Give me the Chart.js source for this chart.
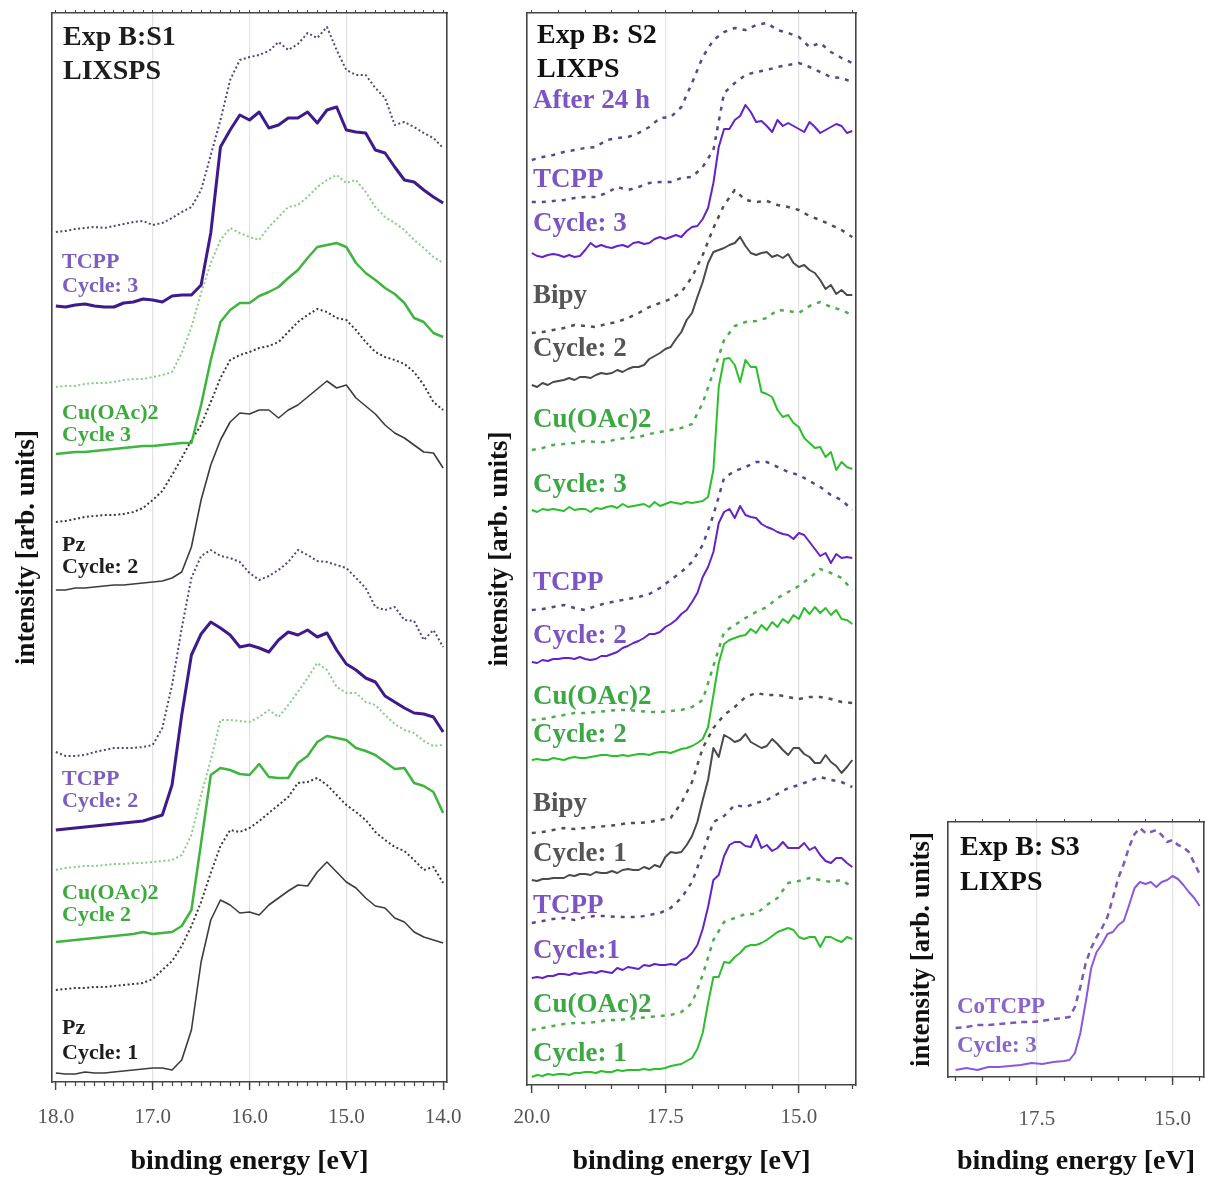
<!DOCTYPE html>
<html><head><meta charset="utf-8">
<script src="https://cdn.jsdelivr.net/npm/chart.js@4.4.1/dist/chart.umd.min.js"></script>
<style>
html,body{margin:0;padding:0;background:#fff;}
#wrap{position:relative;width:1205px;height:1179px;overflow:hidden;background:#fff;}
canvas{position:absolute;top:0;}
</style></head><body>
<div id="wrap">
<canvas id="c1" width="470" height="1179" style="left:0px"></canvas>
<canvas id="c2" width="410" height="1179" style="left:470px"></canvas>
<canvas id="c3" width="325" height="1179" style="left:880px"></canvas>
</div>
<script>
// ---------------- DATA ----------------
// Panel 1 (Exp B:S1) binding energies [eV]
const p1Energy = [18.0,17.9,17.8,17.7,17.6,17.5,17.4,17.3,17.2,17.1,17.0,16.9,16.8,16.7,16.6,16.5,16.4,16.3,16.2,16.1,16.0,15.9,15.8,15.7,15.6,15.5,15.4,15.3,15.2,15.1,15.0,14.9,14.8,14.7,14.6,14.5,14.4,14.3,14.2,14.1,14.0];
const p1TcppC3Dot = [850,851,853,854,855,854,856,858,860,861,857,859,864,870,875,892,927,962,1002,1022,1025,1027,1031,1040,1032,1038,1049,1044,1055,1032,1012,1007,1007,994,984,957,960,955,949,944,934];
const p1TcppC3    = [776,775,777,778,776,775,775,779,780,783,782,780,786,787,787,797,849,935,952,967,962,970,954,957,964,964,970,959,972,975,952,950,949,932,929,915,902,900,892,885,879];
const p1CuC3Dot   = [695,696,696,698,699,699,700,702,703,703,705,707,710,729,755,789,819,842,854,849,845,842,855,865,875,877,885,895,902,907,899,902,890,875,865,859,852,842,834,825,819];
const p1CuC3      = [628,629,630,630,631,632,633,634,635,636,636,637,638,639,639,677,722,760,772,779,779,786,790,795,804,812,824,835,837,839,835,819,809,802,794,788,779,764,760,749,745];
const p1PzC2Dot   = [560,561,563,565,566,567,567,568,570,574,582,591,607,624,642,657,680,704,722,727,730,734,736,740,750,760,767,773,770,764,762,752,740,730,725,722,718,710,697,680,672];
const p1PzC2      = [492,492,494,494,495,496,497,497,498,499,500,501,504,510,535,582,617,642,660,669,668,672,672,664,672,677,685,693,701,694,697,684,676,668,657,649,644,637,630,629,614];
const p1TcppC2Dot = [330,326,326,327,330,332,334,334,334,335,337,354,397,454,504,526,532,526,524,520,509,502,506,512,520,532,527,521,520,517,514,504,494,475,472,475,462,461,442,452,435];
const p1TcppC2    = [252,253,254,255,256,257,258,259,260,261,264,267,297,367,427,448,460,454,447,435,437,434,430,442,450,447,452,445,449,432,418,412,404,400,386,380,374,369,368,365,350];
const p1CuC2Dot   = [212,214,215,216,216,217,218,218,219,219,220,221,222,227,247,287,322,362,362,361,360,365,372,365,377,390,404,419,412,395,389,389,380,377,367,358,352,349,341,336,337];
const p1CuC2      = [140,141,142,143,144,145,146,147,148,150,148,149,150,156,172,239,307,314,312,308,307,318,305,304,304,319,326,340,346,344,342,334,331,327,320,313,314,299,296,290,269];
const p1PzC1Dot   = [92,93,94,94,95,95,96,97,98,99,103,112,121,136,156,180,209,236,252,250,254,261,269,277,285,299,300,304,297,287,277,270,262,250,242,235,231,222,212,215,199];
const p1PzC1      = [9,8,8,10,9,9,10,11,12,13,14,14,12,22,52,120,162,182,177,169,170,167,177,184,191,197,196,210,220,210,200,194,184,176,174,164,160,150,145,142,139];

// Panel 2 (Exp B: S2): dashed traces on a 0.2 eV grid, solid traces on a 0.1 eV grid
const p2EnergyCoarse = [20.0,19.8,19.6,19.4,19.2,19.0,18.8,18.6,18.4,18.2,18.0,17.8,17.6,17.4,17.2,17.0,16.8,16.6,16.4,16.2,16.0,15.8,15.6,15.4,15.2,15.0,14.8,14.6,14.4,14.2,14.0];
const p2EnergyFine = [20.0,19.9,19.8,19.7,19.6,19.5,19.4,19.3,19.2,19.1,19.0,18.9,18.8,18.7,18.6,18.5,18.4,18.3,18.2,18.1,18.0,17.9,17.8,17.7,17.6,17.5,17.4,17.3,17.2,17.1,17.0,16.9,16.8,16.7,16.6,16.5,16.4,16.3,16.2,16.1,16.0,15.9,15.8,15.7,15.6,15.5,15.4,15.3,15.2,15.1,15.0,14.9,14.8,14.7,14.6,14.5,14.4,14.3,14.2,14.1,14.0];
const p2After24h   = [925,928,930,933,935,937,938,945,947,948,952,958,967,968,978,1002,1028,1045,1053,1057,1055,1060,1062,1055,1052,1048,1038,1042,1033,1027,1022];
const p2TcppC3Dot  = [883,883,884,885,887,888,888,892,898,895,898,902,903,903,907,908,918,935,992,1002,1010,1013,1015,1018,1020,1022,1018,1013,1008,1007,1003];
const p2TcppC3     = [832,829,828,830,831,830,828,830,828,829,835,842,838,840,838,837,839,840,838,842,843,841,842,846,848,846,848,850,848,854,858,859,866,877,902,938,956,956,965,969,980,973,963,964,959,953,965,959,962,959,956,953,963,958,952,955,958,961,959,952,954];
const p2BipyC2Dot  = [752,753,755,757,760,759,758,761,763,767,772,778,782,786,793,808,830,857,880,895,885,883,884,880,878,875,869,865,860,855,848];
const p2BipyC2     = [700,698,702,700,703,704,705,707,705,708,708,707,710,712,711,712,715,713,716,718,718,720,726,729,732,736,738,746,753,765,772,788,803,822,833,835,837,840,842,848,839,832,830,832,833,828,830,827,831,822,818,820,815,812,805,796,800,791,795,790,790];
const p2CuC3Dot    = [635,637,640,641,642,644,643,643,646,647,648,651,653,655,657,661,682,713,745,759,763,764,767,775,774,772,779,783,778,775,770];
const p2CuC3       = [575,573,576,575,576,575,574,578,575,576,576,573,577,576,578,579,577,581,578,579,580,581,578,583,579,581,583,582,581,583,582,583,584,588,615,698,726,727,720,703,725,718,718,693,691,688,675,668,670,662,658,647,642,637,638,628,633,615,623,618,616];
const p2TcppC2Dot  = [475,476,478,480,477,475,479,482,484,486,488,491,497,505,513,523,540,570,607,614,618,623,623,618,613,610,604,598,590,585,575];
const p2TcppC2     = [423,422,425,424,426,426,427,427,426,428,426,425,426,429,429,431,433,437,439,442,444,447,451,451,453,458,461,465,471,475,483,492,508,518,533,562,573,576,567,579,570,568,567,561,558,556,553,551,550,546,552,550,543,536,529,532,522,531,527,528,527];
const p2CuC2Dot    = [365,366,368,370,372,372,373,374,375,375,374,373,373,374,375,378,385,419,453,460,467,473,478,487,493,499,507,516,512,507,495];
const p2CuC2       = [325,326,325,325,327,326,325,327,328,327,327,328,329,330,330,329,329,330,329,330,331,331,330,332,333,333,332,334,336,337,339,342,346,358,390,422,441,445,447,449,450,456,452,460,455,463,458,466,462,470,466,477,471,478,472,477,470,475,466,465,461];
const p2BipyC1Dot  = [252,253,255,257,256,257,258,259,260,262,262,263,265,267,282,303,337,357,370,378,388,392,390,390,388,386,388,388,386,383,382];
const p2BipyC1     = [205,204,206,206,207,207,207,210,209,211,211,210,213,212,212,214,212,215,216,215,215,218,216,220,218,228,233,232,233,240,249,263,285,305,337,328,350,347,343,345,351,343,340,337,339,346,341,335,330,337,337,331,328,322,322,330,323,319,312,318,325];
const p2TcppC1Dot  = [162,164,166,167,165,168,169,169,168,168,168,170,172,177,187,203,232,263,269,280,278,282,285,291,297,300,304,308,305,303,298];
const p2TcppC1     = [107,108,107,109,109,111,111,110,112,111,112,113,112,114,113,112,117,115,118,117,116,120,119,121,120,120,121,120,125,127,132,140,156,178,205,210,229,240,243,243,239,238,250,237,240,234,237,243,237,237,237,242,235,238,230,224,222,227,227,222,218];
const p2CuC1Dot    = [55,57,59,61,62,62,63,65,65,66,67,68,69,70,73,82,110,145,163,167,171,171,180,187,202,204,207,205,203,205,198];
const p2CuC1       = [8,10,9,11,10,11,11,10,12,12,13,13,12,14,13,13,15,14,15,15,15,16,15,16,16,17,19,20,21,24,27,36,52,82,108,108,123,122,128,132,138,140,140,142,145,149,153,155,157,155,148,146,148,148,138,148,148,145,143,148,146];

// Panel 3 (Exp B: S3)
const p3Energy = [19.0,18.8,18.6,18.4,18.2,18.0,17.8,17.6,17.4,17.2,17.0,16.9,16.8,16.7,16.6,16.5,16.4,16.3,16.2,16.1,16.0,15.9,15.8,15.7,15.6,15.5,15.4,15.3,15.2,15.1,15.0,14.9,14.8,14.7,14.6,14.5];
const p3CoTcppDash = [49,50,52,52,53,54,55,55,56,58,59,60,70,90,114,129,140,149,160,179,199,213,230,243,249,244,245,247,242,235,237,232,230,225,214,203];
const p3CoTcppC3   = [7,9,7,10,10,11,12,14,13,15,16,17,24,44,75,109,125,133,143,145,152,156,172,189,195,193,195,190,195,197,201,198,192,185,179,171];

// Axis tick settings (eV)
const p1Ticks = {major:1, minor:0.1, grid:[15,16,17]};
const p2Ticks = {major:2.5, minor:0.5, grid:[15,17.5]};
const p3Ticks = {major:2.5, minor:0.5, grid:[15,17.5]};

// ---------------- STYLE / LAYOUT ----------------
const SERIF = '"Liberation Serif", "Times New Roman", serif';
const FRAME = '#444';

const notesPlugin = {
  id: 'notes',
  afterDatasetsDraw(chart, args, opts) {
    const ctx = chart.ctx;
    (opts.items || []).forEach(n => {
      ctx.save();
      ctx.font = 'bold ' + n.s + 'px ' + SERIF;
      ctx.fillStyle = n.c;
      ctx.textBaseline = 'alphabetic';
      ctx.textAlign = 'left';
      ctx.fillText(n.t, n.x, n.y);
      ctx.restore();
    });
  }
};

function ds(energy, values, color, width, dash) {
  return {
    data: energy.map((e, i) => ({x: e, y: values[i]})),
    borderColor: color, borderWidth: width, borderDash: dash || [],
    pointRadius: 0, tension: 0, fill: false, xAxisID: 'x', yAxisID: 'y',
    borderCapStyle: 'butt', borderJoinStyle: 'round'
  };
}

function makePanel(id, L) {
  const near = (a, b) => Math.abs(a - b) < 1e-6;
  const noPad = s => { s.paddingLeft = 0; s.paddingRight = 0; };
  new Chart(document.getElementById(id), {
    type: 'line',
    data: {datasets: L.datasets},
    plugins: [notesPlugin],
    options: {
      responsive: false, animation: false, devicePixelRatio: 1,
      layout: {padding: {left: 0, right: L.padRight, top: 0, bottom: 0}},
      plugins: {legend: {display: false}, tooltip: {enabled: false}, notes: {items: L.notes}},
      scales: {
        xMinor: {
          type: 'linear', position: 'bottom', weight: 0, min: L.min, max: L.max, reverse: true,
          ticks: {display: false, stepSize: L.ticks.minor, includeBounds: false},
          grid: {drawOnChartArea: false, drawTicks: true, tickLength: 4, tickColor: FRAME, tickWidth: 1.2},
          border: {display: false},
          afterFit: s => { s.height = 0; noPad(s); }
        },
        x: {
          type: 'linear', position: 'bottom', weight: 1, min: L.min, max: L.max, reverse: true,
          ticks: {stepSize: L.ticks.major, includeBounds: false, autoSkip: false, maxRotation: 0,
                  padding: L.tickPad, color: '#555', font: {family: SERIF, size: 21},
                  callback: v => Number(v).toFixed(1)},
          grid: {
            color: c => (c.tick && L.ticks.grid.some(g => near(g, c.tick.value))) ? '#e2e2e2' : 'rgba(0,0,0,0)',
            lineWidth: 1.2, tickLength: 8, tickColor: FRAME, tickWidth: 1.4
          },
          border: {display: true, color: FRAME, width: 1.6},
          title: {display: true, text: 'binding energy [eV]', color: '#111',
                  font: {family: SERIF, size: 28, weight: 'bold'}, padding: {top: 0, bottom: 0}},
          afterFit: s => { s.height = L.xH; noPad(s); }
        },
        xTop: {
          type: 'linear', position: 'top', min: L.min, max: L.max, reverse: true,
          ticks: {display: false, stepSize: L.ticks.minor, includeBounds: false},
          grid: {drawOnChartArea: false, drawTicks: true, tickLength: 3, tickColor: FRAME, tickWidth: 1},
          border: {display: true, color: FRAME, width: 1.6},
          afterFit: s => { s.height = L.topH; noPad(s); }
        },
        y: {
          type: 'linear', position: 'left', min: 0, max: L.yMax,
          ticks: {display: false}, grid: {display: false, drawTicks: false},
          border: {display: true, color: FRAME, width: 1.6},
          title: {display: true, text: 'intensity [arb. units]', color: '#111',
                  font: {family: SERIF, size: 27, weight: 'bold'}, padding: {top: L.yTitlePad, bottom: 0}},
          afterFit: s => { s.width = L.yW; }
        },
        yRight: {
          type: 'linear', position: 'right', min: 0, max: L.yMax,
          ticks: {display: false}, grid: {display: false, drawTicks: false},
          border: {display: true, color: FRAME, width: 1.6},
          afterFit: s => { s.width = 0; }
        }
      }
    }
  });
}

// Panel 1 colours
const P1_PURPLE_DOT = '#58427f', P1_PURPLE = '#3d1b8c';
const P1_GREEN_DOT = '#82cf82', P1_GREEN = '#3fb53f';
const P1_GRAY_DOT = '#3a3a3a', P1_GRAY = '#3c3c3c';
const DOT1 = [2, 2.5];
const L1P = '#7b5fc0', L1G = '#3daa3d', L1K = '#1e1e1e';

makePanel('c1', {
  min: 13.96, max: 18.04, yMax: 1069, padRight: 23, yW: 52, topH: 13, xH: 97,
  tickPad: 15, yTitlePad: 11, ticks: p1Ticks,
  datasets: [
    ds(p1Energy, p1TcppC3Dot, P1_PURPLE_DOT, 2, DOT1),
    ds(p1Energy, p1TcppC3, P1_PURPLE, 3),
    ds(p1Energy, p1CuC3Dot, P1_GREEN_DOT, 2, DOT1),
    ds(p1Energy, p1CuC3, P1_GREEN, 2.5),
    ds(p1Energy, p1PzC2Dot, P1_GRAY_DOT, 2, DOT1),
    ds(p1Energy, p1PzC2, P1_GRAY, 1.6),
    ds(p1Energy, p1TcppC2Dot, P1_PURPLE_DOT, 2, DOT1),
    ds(p1Energy, p1TcppC2, P1_PURPLE, 3),
    ds(p1Energy, p1CuC2Dot, P1_GREEN_DOT, 2, DOT1),
    ds(p1Energy, p1CuC2, P1_GREEN, 2.5),
    ds(p1Energy, p1PzC1Dot, P1_GRAY_DOT, 2, DOT1),
    ds(p1Energy, p1PzC1, P1_GRAY, 1.6)
  ],
  notes: [
    {t: 'Exp B:S1', c: L1K, x: 63, y: 45, s: 28},
    {t: 'LIXSPS', c: L1K, x: 63, y: 79, s: 28},
    {t: 'TCPP', c: L1P, x: 62, y: 268, s: 22},
    {t: 'Cycle: 3', c: L1P, x: 62, y: 292, s: 22},
    {t: 'Cu(OAc)2', c: L1G, x: 62, y: 419, s: 22},
    {t: 'Cycle 3', c: L1G, x: 62, y: 441, s: 22},
    {t: 'Pz', c: L1K, x: 62, y: 551, s: 22},
    {t: 'Cycle: 2', c: L1K, x: 62, y: 573, s: 22},
    {t: 'TCPP', c: L1P, x: 62, y: 785, s: 22},
    {t: 'Cycle: 2', c: L1P, x: 62, y: 807, s: 22},
    {t: 'Cu(OAc)2', c: L1G, x: 62, y: 899, s: 22},
    {t: 'Cycle 2', c: L1G, x: 62, y: 921, s: 22},
    {t: 'Pz', c: L1K, x: 62, y: 1034, s: 22},
    {t: 'Cycle: 1', c: L1K, x: 62, y: 1059, s: 22}
  ]
});

// Panel 2 colours
const P2_PURPLE_DASH = '#5c4590', P2_PURPLE = '#6422c8';
const P2_GRAY_DASH = '#505050', P2_GRAY = '#4a4a4a';
const P2_GREEN_DASH = '#4aae4a', P2_GREEN = '#2cbf2c';
const DASH2 = [4, 6];
const L2P = '#7c55c4', L2G = '#3ca843', L2K = '#555555';

makePanel('c2', {
  min: 13.93, max: 20.09, yMax: 1072, padRight: 24, yW: 57, topH: 13, xH: 94,
  tickPad: 12, yTitlePad: 14, ticks: p2Ticks,
  datasets: [
    ds(p2EnergyCoarse, p2After24h, P2_PURPLE_DASH, 2.5, DASH2),
    ds(p2EnergyCoarse, p2TcppC3Dot, P2_PURPLE_DASH, 2.5, DASH2),
    ds(p2EnergyFine, p2TcppC3, P2_PURPLE, 2),
    ds(p2EnergyCoarse, p2BipyC2Dot, P2_GRAY_DASH, 2.5, DASH2),
    ds(p2EnergyFine, p2BipyC2, P2_GRAY, 2),
    ds(p2EnergyCoarse, p2CuC3Dot, P2_GREEN_DASH, 2.5, DASH2),
    ds(p2EnergyFine, p2CuC3, P2_GREEN, 2),
    ds(p2EnergyCoarse, p2TcppC2Dot, P2_PURPLE_DASH, 2.5, DASH2),
    ds(p2EnergyFine, p2TcppC2, P2_PURPLE, 2),
    ds(p2EnergyCoarse, p2CuC2Dot, P2_GREEN_DASH, 2.5, DASH2),
    ds(p2EnergyFine, p2CuC2, P2_GREEN, 2),
    ds(p2EnergyCoarse, p2BipyC1Dot, P2_GRAY_DASH, 2.5, DASH2),
    ds(p2EnergyFine, p2BipyC1, P2_GRAY, 2),
    ds(p2EnergyCoarse, p2TcppC1Dot, P2_PURPLE_DASH, 2.5, DASH2),
    ds(p2EnergyFine, p2TcppC1, P2_PURPLE, 2),
    ds(p2EnergyCoarse, p2CuC1Dot, P2_GREEN_DASH, 2.5, DASH2),
    ds(p2EnergyFine, p2CuC1, P2_GREEN, 2)
  ],
  notes: [
    {t: 'Exp B: S2', c: '#111', x: 67, y: 43, s: 28},
    {t: 'LIXPS', c: '#111', x: 67, y: 77, s: 28},
    {t: 'After 24 h', c: L2P, x: 63, y: 108, s: 27},
    {t: 'TCPP', c: L2P, x: 63, y: 187, s: 27},
    {t: 'Cycle: 3', c: L2P, x: 63, y: 231, s: 27},
    {t: 'Bipy', c: L2K, x: 63, y: 303, s: 27},
    {t: 'Cycle: 2', c: L2K, x: 63, y: 356, s: 27},
    {t: 'Cu(OAc)2', c: L2G, x: 63, y: 427, s: 27},
    {t: 'Cycle: 3', c: L2G, x: 63, y: 492, s: 27},
    {t: 'TCPP', c: L2P, x: 63, y: 590, s: 27},
    {t: 'Cycle: 2', c: L2P, x: 63, y: 643, s: 27},
    {t: 'Cu(OAc)2', c: L2G, x: 63, y: 704, s: 27},
    {t: 'Cycle: 2', c: L2G, x: 63, y: 742, s: 27},
    {t: 'Bipy', c: L2K, x: 63, y: 811, s: 27},
    {t: 'Cycle: 1', c: L2K, x: 63, y: 861, s: 27},
    {t: 'TCPP', c: L2P, x: 63, y: 913, s: 27},
    {t: 'Cycle:1', c: L2P, x: 63, y: 958, s: 27},
    {t: 'Cu(OAc)2', c: L2G, x: 63, y: 1012, s: 27},
    {t: 'Cycle: 1', c: L2G, x: 63, y: 1061, s: 27}
  ]
});

// Panel 3 colours
const P3_DASH = '#7a5ab8', P3_SOLID = '#8a58e0';
const L3P = '#8866cc';

makePanel('c3', {
  min: 14.42, max: 19.14, yMax: 255, padRight: 1, yW: 68, topH: 822, xH: 102,
  tickPad: 22, yTitlePad: 26, ticks: p3Ticks,
  datasets: [
    ds(p3Energy, p3CoTcppDash, P3_DASH, 2.5, [6, 5]),
    ds(p3Energy, p3CoTcppC3, P3_SOLID, 2)
  ],
  notes: [
    {t: 'Exp B: S3', c: '#111', x: 80, y: 855, s: 28},
    {t: 'LIXPS', c: '#111', x: 80, y: 890, s: 28},
    {t: 'CoTCPP', c: L3P, x: 77, y: 1013, s: 23},
    {t: 'Cycle: 3', c: L3P, x: 77, y: 1052, s: 23}
  ]
});
</script>
</body></html>
